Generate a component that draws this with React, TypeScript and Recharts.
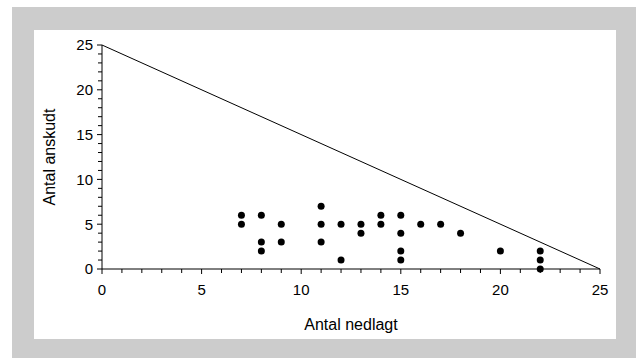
import React from 'react';
import { ScatterChart, Scatter, XAxis, YAxis, ReferenceLine } from 'recharts';

// Antal nedlagt (x) og antal anskudt (y) for hver observation
const nedlagt = [7, 7, 8, 8, 8, 9, 9, 11, 11, 11, 12, 12, 13, 13, 14, 14, 15, 15, 15, 15, 16, 17, 18, 20, 22, 22, 22];
const anskudt = [6, 5, 6, 3, 2, 5, 3, 7, 5, 3, 5, 1, 5, 4, 6, 5, 6, 4, 2, 1, 5, 5, 4, 2, 2, 1, 0];

// Hele akseinddelingen: små streger ved hver enhed, tal ved hver femte
const axisTicks = [0, 1, 2, 3, 4, 5, 6, 7, 8, 9, 10, 11, 12, 13, 14, 15, 16, 17, 18, 19, 20, 21, 22, 23, 24, 25];
const axisMax = 25;

// Grænselinjen nedlagt + anskudt = 25
const limitLine = [
  { x: 0, y: 25 },
  { x: 25, y: 0 },
];

const points = nedlagt.map((x, i) => ({ x, y: anskudt[i] }));

const FONT = '"Liberation Sans", Arial, Helvetica, sans-serif';

const XTick = (props: any) => {
  const { x, y, payload } = props;
  const major = payload.value % 5 === 0;
  return (
    <g>
      <line x1={x} x2={x} y1={y} y2={y + (major ? 5 : 4)} stroke="#000" strokeWidth={1} />
      {major && (
        <text x={x} y={y + 26} textAnchor="middle" fontSize={15} fontFamily={FONT} fill="#000">
          {payload.value}
        </text>
      )}
    </g>
  );
};

const YTick = (props: any) => {
  const { x, y, payload } = props;
  const major = payload.value % 5 === 0;
  return (
    <g>
      <line x1={x - (major ? 5 : 4)} x2={x} y1={y} y2={y} stroke="#000" strokeWidth={1} />
      {major && (
        <text x={x - 9} y={y} dy="0.36em" textAnchor="end" fontSize={15} fontFamily={FONT} fill="#000">
          {payload.value}
        </text>
      )}
    </g>
  );
};

const Dot = (props: any) => <circle cx={props.cx} cy={props.cy} r={3.5} fill="#000" />;

export default function App() {
  return (
    <div style={{ position: 'absolute', left: 0, top: 0, width: 636, height: 358, background: '#fff' }}>
      <div style={{ position: 'absolute', left: 12, top: 7, width: 624, height: 351, background: '#cccccc' }} />
      <div style={{ position: 'absolute', left: 34, top: 30, width: 582, height: 309, background: '#fff' }} />
      <div style={{ position: 'absolute', left: 0, top: 0 }}>
        <ScatterChart width={636} height={358} margin={{ top: 45, right: 36, bottom: 59, left: 42 }}>
          <XAxis
            type="number"
            dataKey="x"
            domain={[0, axisMax]}
            ticks={axisTicks}
            interval={0}
            height={30}
            tickSize={0}
            tickMargin={0}
            tickLine={false}
            axisLine={{ stroke: '#000', strokeWidth: 1 }}
            tick={<XTick />}
            label={{
              content: (p: any) => (
                <text
                  x={p.viewBox.x + p.viewBox.width / 2}
                  y={p.viewBox.y + 55}
                  textAnchor="middle"
                  dominantBaseline="central"
                  fontSize={16}
                  fontFamily={FONT}
                  fill="#000"
                >
                  Antal nedlagt
                </text>
              ),
            }}
          />
          <YAxis
            type="number"
            dataKey="y"
            domain={[0, axisMax]}
            ticks={axisTicks}
            interval={0}
            width={60}
            tickSize={0}
            tickMargin={0}
            tickLine={false}
            axisLine={{ stroke: '#000', strokeWidth: 1 }}
            tick={<YTick />}
            label={{
              content: (p: any) => {
                const cx = p.viewBox.x + 7;
                const cy = p.viewBox.y + p.viewBox.height / 2;
                return (
                  <text
                    x={cx}
                    y={cy}
                    transform={`rotate(-90 ${cx} ${cy})`}
                    textAnchor="middle"
                    dominantBaseline="central"
                    fontSize={16}
                    fontFamily={FONT}
                    fill="#000"
                  >
                    Antal anskudt
                  </text>
                );
              },
            }}
          />
          <ReferenceLine segment={limitLine} stroke="#000" strokeWidth={1} ifOverflow="visible" />
          <Scatter data={points} fill="#000" shape={<Dot />} isAnimationActive={false} />
        </ScatterChart>
      </div>
    </div>
  );
}
